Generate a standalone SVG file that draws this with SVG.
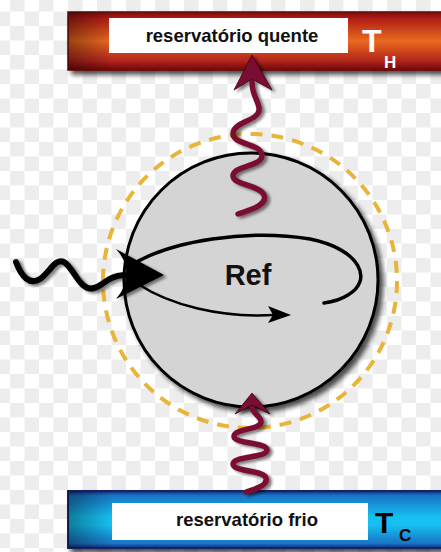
<svg xmlns="http://www.w3.org/2000/svg" width="441" height="552" viewBox="0 0 441 552">
<defs>
<linearGradient id="hotV" x1="0" y1="0" x2="0" y2="1">
<stop offset="0" stop-color="#7e0c0e"/>
<stop offset="0.12" stop-color="#b01f14"/>
<stop offset="0.5" stop-color="#ea6a20"/>
<stop offset="0.85" stop-color="#b0231a"/>
<stop offset="1" stop-color="#6e0808"/>
</linearGradient>
<linearGradient id="coldV" x1="0" y1="0" x2="0" y2="1">
<stop offset="0" stop-color="#142a7a"/>
<stop offset="0.08" stop-color="#1a74c4"/>
<stop offset="0.45" stop-color="#14c0f0"/>
<stop offset="0.6" stop-color="#14c0f0"/>
<stop offset="0.92" stop-color="#1a74c4"/>
<stop offset="1" stop-color="#142a7a"/>
</linearGradient>
<linearGradient id="leftShade" x1="0" y1="0" x2="1" y2="0">
<stop offset="0" stop-color="#000" stop-opacity="0.35"/>
<stop offset="1" stop-color="#000" stop-opacity="0"/>
</linearGradient>
<filter id="shadow" x="-20%" y="-20%" width="140%" height="150%">
<feGaussianBlur in="SourceAlpha" stdDeviation="2.5"/>
<feOffset dx="4" dy="4" result="b"/>
<feComponentTransfer><feFuncA type="linear" slope="0.7"/></feComponentTransfer>
<feMerge><feMergeNode/><feMergeNode in="SourceGraphic"/></feMerge>
</filter>
<filter id="softShadow" x="-50%" y="-20%" width="200%" height="140%">
<feGaussianBlur in="SourceAlpha" stdDeviation="1.5"/>
<feOffset dx="3" dy="2"/>
<feComponentTransfer><feFuncA type="linear" slope="0.5"/></feComponentTransfer>
<feMerge><feMergeNode/><feMergeNode in="SourceGraphic"/></feMerge>
</filter>
<style>
.lbl{font-family:"Liberation Sans",Arial,sans-serif;font-weight:bold;font-size:18.5px;fill:#111;text-anchor:middle}
.big{font-family:"Liberation Sans",Arial,sans-serif;font-weight:bold}
.wave{fill:none;stroke:#7a1030;stroke-width:5.5;stroke-linecap:round}
.head{fill:#7a1030;stroke:#3a0010;stroke-width:0.8}
.ck{stroke:#ededed;stroke-width:14.5;stroke-dasharray:14.5 14.5}
</style>
</defs>

<rect x="0" y="0" width="441" height="552" fill="#ffffff"/>
<g id="background">
<line class="ck" x1="-19" y1="4.25" x2="460" y2="4.25"/>
<line class="ck" x1="-4.5" y1="18.75" x2="460" y2="18.75"/>
<line class="ck" x1="-19" y1="33.25" x2="460" y2="33.25"/>
<line class="ck" x1="-4.5" y1="47.75" x2="460" y2="47.75"/>
<line class="ck" x1="-19" y1="62.25" x2="460" y2="62.25"/>
<line class="ck" x1="-4.5" y1="76.75" x2="460" y2="76.75"/>
<line class="ck" x1="-19" y1="91.25" x2="460" y2="91.25"/>
<line class="ck" x1="-4.5" y1="105.75" x2="460" y2="105.75"/>
<line class="ck" x1="-19" y1="120.25" x2="460" y2="120.25"/>
<line class="ck" x1="-4.5" y1="134.75" x2="460" y2="134.75"/>
<line class="ck" x1="-19" y1="149.25" x2="460" y2="149.25"/>
<line class="ck" x1="-4.5" y1="163.75" x2="460" y2="163.75"/>
<line class="ck" x1="-19" y1="178.25" x2="460" y2="178.25"/>
<line class="ck" x1="-4.5" y1="192.75" x2="460" y2="192.75"/>
<line class="ck" x1="-19" y1="207.25" x2="460" y2="207.25"/>
<line class="ck" x1="-4.5" y1="221.75" x2="460" y2="221.75"/>
<line class="ck" x1="-19" y1="236.25" x2="460" y2="236.25"/>
<line class="ck" x1="-4.5" y1="250.75" x2="460" y2="250.75"/>
<line class="ck" x1="-19" y1="265.25" x2="460" y2="265.25"/>
<line class="ck" x1="-4.5" y1="279.75" x2="460" y2="279.75"/>
<line class="ck" x1="-19" y1="294.25" x2="460" y2="294.25"/>
<line class="ck" x1="-4.5" y1="308.75" x2="460" y2="308.75"/>
<line class="ck" x1="-19" y1="323.25" x2="460" y2="323.25"/>
<line class="ck" x1="-4.5" y1="337.75" x2="460" y2="337.75"/>
<line class="ck" x1="-19" y1="352.25" x2="460" y2="352.25"/>
<line class="ck" x1="-4.5" y1="366.75" x2="460" y2="366.75"/>
<line class="ck" x1="-19" y1="381.25" x2="460" y2="381.25"/>
<line class="ck" x1="-4.5" y1="395.75" x2="460" y2="395.75"/>
<line class="ck" x1="-19" y1="410.25" x2="460" y2="410.25"/>
<line class="ck" x1="-4.5" y1="424.75" x2="460" y2="424.75"/>
<line class="ck" x1="-19" y1="439.25" x2="460" y2="439.25"/>
<line class="ck" x1="-4.5" y1="453.75" x2="460" y2="453.75"/>
<line class="ck" x1="-19" y1="468.25" x2="460" y2="468.25"/>
<line class="ck" x1="-4.5" y1="482.75" x2="460" y2="482.75"/>
<line class="ck" x1="-19" y1="497.25" x2="460" y2="497.25"/>
<line class="ck" x1="-4.5" y1="511.75" x2="460" y2="511.75"/>
<line class="ck" x1="-19" y1="526.25" x2="460" y2="526.25"/>
<line class="ck" x1="-4.5" y1="540.75" x2="460" y2="540.75"/>
<line class="ck" x1="-19" y1="555.25" x2="460" y2="555.25"/>
</g>

<g id="hot-reservoir">
<g filter="url(#shadow)">
<rect x="68" y="12" width="380" height="58" fill="url(#hotV)" stroke="#650808" stroke-width="1.5"/>
</g>
<rect x="68" y="12" width="45" height="58" fill="url(#leftShade)"/>
<rect x="109" y="18" width="239" height="35" fill="#ffffff"/>
<text class="lbl" x="232" y="42">reservatório quente</text>
<text class="big" x="362" y="52" font-size="32" fill="#ffffff">T</text>
<text class="big" x="384" y="68" font-size="17" fill="#ffffff">H</text>
</g>

<g id="cold-reservoir">
<g filter="url(#shadow)">
<rect x="68" y="491" width="380" height="57" fill="url(#coldV)" stroke="#14206a" stroke-width="2"/>
</g>
<rect x="68" y="491" width="45" height="57" fill="url(#leftShade)"/>
<rect x="112" y="503" width="256" height="37" fill="#ffffff"/>
<text class="lbl" x="247" y="526">reservatório frio</text>
<text class="big" x="375" y="533" font-size="30" fill="#000000">T</text>
<text class="big" x="399" y="541" font-size="17" fill="#000000">C</text>
</g>

<g id="refrigerator">
<circle cx="250" cy="281" r="147" fill="none" stroke="#e8b43a" stroke-width="4" stroke-dasharray="12 9"/>
<g filter="url(#shadow)">
<circle cx="251" cy="280" r="127" fill="#d4d4d4" stroke="#000" stroke-width="3"/>
</g>
<text class="big" x="248" y="285" font-size="29" fill="#111" text-anchor="middle">Ref</text>
</g>

<g id="connectors">
<g id="cycle">
<path d="M130 266 C170 240 250 229 310 239 C360 249 374 280 348 295 C340 300 332 302 324 303" fill="none" stroke="#000" stroke-width="3.5" stroke-linecap="round"/>
<path d="M138 284 C170 305 220 318 274 315" fill="none" stroke="#000" stroke-width="2.5"/>
<path d="M291 315 L268 306 L273 315 L268 323 Z" fill="#000"/>
</g>
<g id="work-in" filter="url(#softShadow)">
<path d="M16 262 C22 278 30 285 40 279 C50 272 55 258 64 262 C74 268 80 292 94 288 C104 285 108 276 124 275" fill="none" stroke="#000" stroke-width="6" stroke-linecap="round"/>
<path d="M164 275 L116 249 Q128 262 126 274 Q126 288 116 299 Z" fill="#000"/>
</g>
<g id="heat-out" filter="url(#softShadow)">
<path class="wave" d="M238 214 C250 210 268 205 264 195 C260 185 233 185 233 176 C233 165 263 167 262 155 C261 143 232 145 233 133 C234 121 261 121 259 108 C258 100 252 95 252 82"/>
<path class="head" d="M252 55 L272 90 L252 79 L234 90 Z"/>
</g>
<g id="heat-in" filter="url(#softShadow)">
<path class="wave" d="M246 492 C258 488 268 485 266 478 C264 470 233 472 233 464 C233 456 267 458 267 450 C267 442 233 444 234 436 C235 428 263 430 261 421 C260 415 252 414 252 406"/>
<path class="head" d="M252 393 L270 414 L252 405 L235 414 Z"/>
</g>
</g>
</svg>
